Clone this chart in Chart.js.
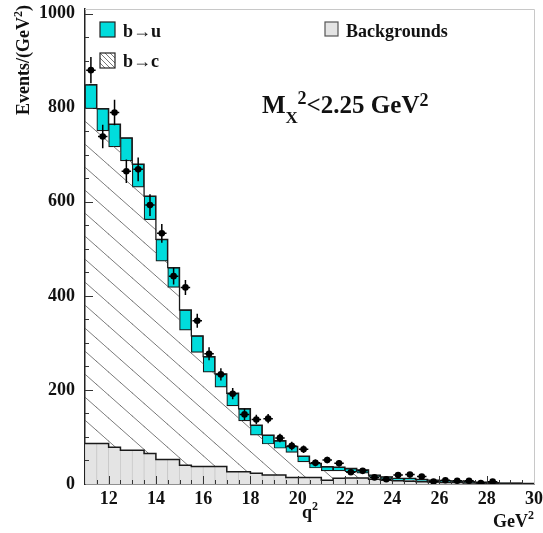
<!DOCTYPE html>
<html>
<head>
<meta charset="utf-8">
<script src="https://cdn.jsdelivr.net/npm/chart.js@4.4.0/dist/chart.umd.min.js"></script>
<style>
  html, body { margin: 0; padding: 0; background: #fff; }
</style>
</head>
<body>
<canvas id="grafico" width="543" height="533"></canvas>
<script>
// bordes inferiores de los bins (0.5 GeV^2)
var limites = [11, 11.5, 12, 12.5, 13, 13.5, 14, 14.5, 15, 15.5, 16, 16.5, 17, 17.5, 18, 18.5, 19, 19.5, 20,
               20.5, 21, 21.5, 22, 22.5, 23, 23.5, 24, 24.5, 25, 25.5, 26, 26.5, 27, 27.5, 28, 28.5, 29, 29.5];
var fondo = [86, 86, 78, 72, 72, 65, 52, 52, 40, 37, 37, 37, 26, 26, 23, 19, 19, 14, 14, 14,
             8, 12, 13, 13, 10, 8, 7, 6, 5, 4, 3, 3, 2, 2, 1, 1, 1, 1];
var bc = [712, 665, 639, 615, 559, 497, 422, 366, 287, 243, 201, 169, 140, 108, 81, 66, 57, 53, 33, 20,
          20, 16, 13, 10, 5, 2, 1, 2, 1, 1, 1, 1, 1, 1, 1, 0.5, 0, 0];
var bu = [51, 47, 48, 49, 49, 50, 46, 42, 43, 35, 33, 28, 27, 26, 21, 19, 16, 13, 12, 10,
          9, 8, 7, 7, 4, 5, 4, 4, 4, 3, 3, 2, 2, 1, 1, 0.5, 1, 0];
var datos = [880, 739, 790, 665, 669, 593, 533, 442, 418, 347, 277, 233, 192, 148, 137, 139, 98, 81, 74, 45,
             51, 44, 25, 28, 14, 10, 19, 20, 16, 5, 8, 7, 7, 2, 5, null, null, null];
var errores = [28, 25, 27, 25, 25, 23, 20, 18, 16, 15, 14, 13, 12, 12, 10, 10, 9, 9, 8, 7,
               7, 7, 6, 6, 5, 5, 5, 5, 5, 4, 4, 4, 4, 3, 4, 0, 0, 0];
var xTicks = [12, 14, 16, 18, 20, 22, 24, 26, 28, 30];
var yTicks = [0, 200, 400, 600, 800, 1000];

var FUENTE = '"Liberation Serif", "Times New Roman", serif';
var CIAN = '#00dcdc';
var GRIS = '#e4e4e4';

var ctx = document.getElementById('grafico').getContext('2d');

// rayado para b->c
function rayado(w, h, color, grosor) {
    var c = document.createElement('canvas');
    c.width = w; c.height = h;
    var g = c.getContext('2d');
    g.strokeStyle = color;
    g.lineWidth = grosor;
    g.beginPath();
    for (var o = -1; o <= 1; o++) {
        g.moveTo(o * w, 0);
        g.lineTo(o * w + w, h);
    }
    g.stroke();
    return ctx.createPattern(c, 'repeat');
}

function barras(vals) {
    return vals.map(function(v, i) { return {x: limites[i] + 0.25, y: v}; });
}
function escalones(vals) {
    var pts = vals.map(function(v, i) { return {x: limites[i], y: v}; });
    pts.push({x: 30, y: vals[vals.length - 1]});
    return pts;
}
var total = fondo.map(function(v, i) { return v + bc[i] + bu[i]; });
var puntos = datos.map(function(v, i) { return {x: limites[i] + 0.25, y: v}; });

function texto(c, x, y, partes) {
    partes.forEach(function(p) {
        c.font = 'bold ' + p[1] + 'px ' + FUENTE;
        c.fillText(p[0], x, y + (p[2] || 0));
        x += c.measureText(p[0]).width;
    });
    return x;
}
function anchoTexto(c, partes) {
    var w = 0;
    partes.forEach(function(p) {
        c.font = 'bold ' + p[1] + 'px ' + FUENTE;
        w += c.measureText(p[0]).width;
    });
    return w;
}

var decoracion = {
    id: 'decoracion',
    afterDatasetsDraw: function(chart) {
        var c = chart.ctx, xs = chart.scales.x, ys = chart.scales.y, a = chart.chartArea;
        c.save();
        // barras de error
        c.strokeStyle = '#000';
        c.lineWidth = 1.5;
        puntos.forEach(function(p, i) {
            if (p.y === null) return;
            var px = xs.getPixelForValue(p.x), py = ys.getPixelForValue(p.y);
            c.beginPath();
            c.moveTo(px, ys.getPixelForValue(p.y + errores[i]));
            c.lineTo(px, ys.getPixelForValue(Math.max(0, p.y - errores[i])));
            c.moveTo(xs.getPixelForValue(p.x - 0.2), py);
            c.lineTo(xs.getPixelForValue(p.x + 0.2), py);
            c.stroke();
        });
        // marcas hacia dentro
        c.strokeStyle = '#333';
        c.lineWidth = 1;
        c.beginPath();
        for (var v = 11.5; v < 30; v += 0.5) {
            var px = Math.round(xs.getPixelForValue(v)) + 0.5;
            var largo = (v % 2 === 0) ? 8 : 4;
            c.moveTo(px, a.bottom);
            c.lineTo(px, a.bottom - largo);
        }
        for (var w = 50; w <= 1000; w += 50) {
            var py = Math.round(ys.getPixelForValue(w)) + 0.5;
            var l2 = (w % 200 === 0) ? 8 : 4;
            c.moveTo(a.left, py);
            c.lineTo(a.left + l2, py);
        }
        c.stroke();
        c.restore();
    },
    afterDraw: function(chart) {
        var c = chart.ctx, a = chart.chartArea;
        c.save();
        // marco superior y derecho
        c.strokeStyle = '#c8c8c8';
        c.lineWidth = 1;
        c.beginPath();
        c.moveTo(a.left, a.top + 0.5);
        c.lineTo(a.right + 0.5, a.top + 0.5);
        c.lineTo(a.right + 0.5, a.bottom);
        c.stroke();

        c.fillStyle = '#111';
        c.textBaseline = 'alphabetic';
        c.textAlign = 'left';

        // leyenda
        c.fillStyle = CIAN;
        c.fillRect(100, 22, 15, 15);
        c.strokeStyle = '#222';
        c.lineWidth = 1.2;
        c.strokeRect(100, 22, 15, 15);

        c.fillStyle = '#fff';
        c.fillRect(100, 53, 15, 15);
        c.save();
        c.beginPath();
        c.rect(100, 53, 15, 15);
        c.clip();
        c.strokeStyle = '#555';
        c.lineWidth = 0.8;
        c.beginPath();
        for (var k = -15; k <= 15; k += 5) {
            c.moveTo(100 + k, 53);
            c.lineTo(115 + k, 68);
        }
        c.stroke();
        c.restore();
        c.strokeStyle = '#222';
        c.strokeRect(100, 53, 15, 15);

        c.fillStyle = GRIS;
        c.fillRect(325, 22, 13, 14);
        c.strokeStyle = '#555';
        c.strokeRect(325, 22, 13, 14);

        c.fillStyle = '#111';
        texto(c, 123, 37, [['b\u2192u', 18]]);
        texto(c, 123, 67, [['b\u2192c', 18]]);
        texto(c, 346, 37, [['Backgrounds', 18]]);

        // M_X^2 < 2.25 GeV^2
        var x = texto(c, 262, 113, [['M', 25]]);
        texto(c, x, 113, [['X', 17, 10]]);
        x = texto(c, x + 12, 113, [['2', 18, -9], ['<2.25 GeV', 25], ['2', 18, -7]]);

        // titulo eje y (rotado)
        var partesY = [['Events/(GeV', 18], ['2', 12, -7], [')', 18]];
        var largoY = anchoTexto(c, partesY);
        c.save();
        c.translate(29, 5 + largoY);
        c.rotate(-Math.PI / 2);
        texto(c, 0, 0, partesY);
        c.restore();

        // titulos eje x
        texto(c, 302, 518, [['q', 18], ['2', 12, -8]]);
        texto(c, 493, 527, [['GeV', 18], ['2', 12, -8]]);
        c.restore();
    }
};

var grafico = new Chart(ctx, {
    data: {
        datasets: [
            {
                type: 'scatter', data: puntos, stack: 'p', order: 0,
                pointRadius: 3.3, pointBackgroundColor: '#000', pointBorderColor: '#000', pointBorderWidth: 0
            },
            {
                type: 'line', data: escalones(total), stack: 't', order: 1, stepped: 'before',
                borderColor: '#1a1a1a', borderWidth: 1.3, pointRadius: 0, fill: false
            },
            {
                type: 'line', data: escalones(fondo), stack: 'f', order: 1, stepped: 'before',
                borderColor: '#1a1a1a', borderWidth: 1.5, pointRadius: 0, fill: false
            },
            {
                type: 'bar', label: 'Backgrounds', data: barras(fondo), order: 3,
                backgroundColor: GRIS, borderColor: '#c4c4c4',
                borderWidth: {left: 0.7, right: 0.7, top: 0, bottom: 0}, borderSkipped: false
            },
            {
                type: 'bar', label: 'b\u2192c', data: barras(bc), order: 3,
                backgroundColor: rayado(26, 23, '#5a5a5a', 0.8), borderWidth: 0
            },
            {
                type: 'bar', label: 'b\u2192u', data: barras(bu), order: 3,
                backgroundColor: CIAN, borderColor: '#1a1a1a', borderWidth: 1.2, borderSkipped: false
            }
        ]
    },
    options: {
        responsive: false,
        animation: false,
        devicePixelRatio: 1,
        layout: { padding: { left: 0, right: 9, top: 9, bottom: 0 } },
        datasets: { bar: { barPercentage: 1, categoryPercentage: 1 } },
        plugins: { legend: { display: false }, tooltip: { enabled: false } },
        scales: {
            x: {
                type: 'linear', min: 11, max: 30, offset: false, stacked: true,
                grid: { display: false, drawTicks: false },
                border: { display: true, color: '#222', width: 1.5 },
                ticks: {
                    color: '#111', padding: 5, maxRotation: 0, autoSkip: false,
                    font: { family: FUENTE, size: 18, weight: 'bold' },
                    callback: function(v) { return String(v); }
                },
                afterBuildTicks: function(s) { s.ticks = xTicks.map(function(v) { return {value: v}; }); },
                afterFit: function(s) { s.height = 49; s.paddingLeft = 0; s.paddingRight = 0; }
            },
            y: {
                type: 'linear', min: 0, max: 1010, stacked: true,
                grid: { display: false, drawTicks: false },
                border: { display: true, color: '#222', width: 1.5 },
                ticks: {
                    color: '#111', padding: 10,
                    font: { family: FUENTE, size: 18, weight: 'bold' },
                    callback: function(v) { return String(v); }
                },
                afterBuildTicks: function(s) { s.ticks = yTicks.map(function(v) { return {value: v}; }); },
                afterFit: function(s) { s.width = 85; s.paddingTop = 0; s.paddingBottom = 0; }
            }
        }
    },
    plugins: [decoracion]
});
</script>
</body>
</html>
